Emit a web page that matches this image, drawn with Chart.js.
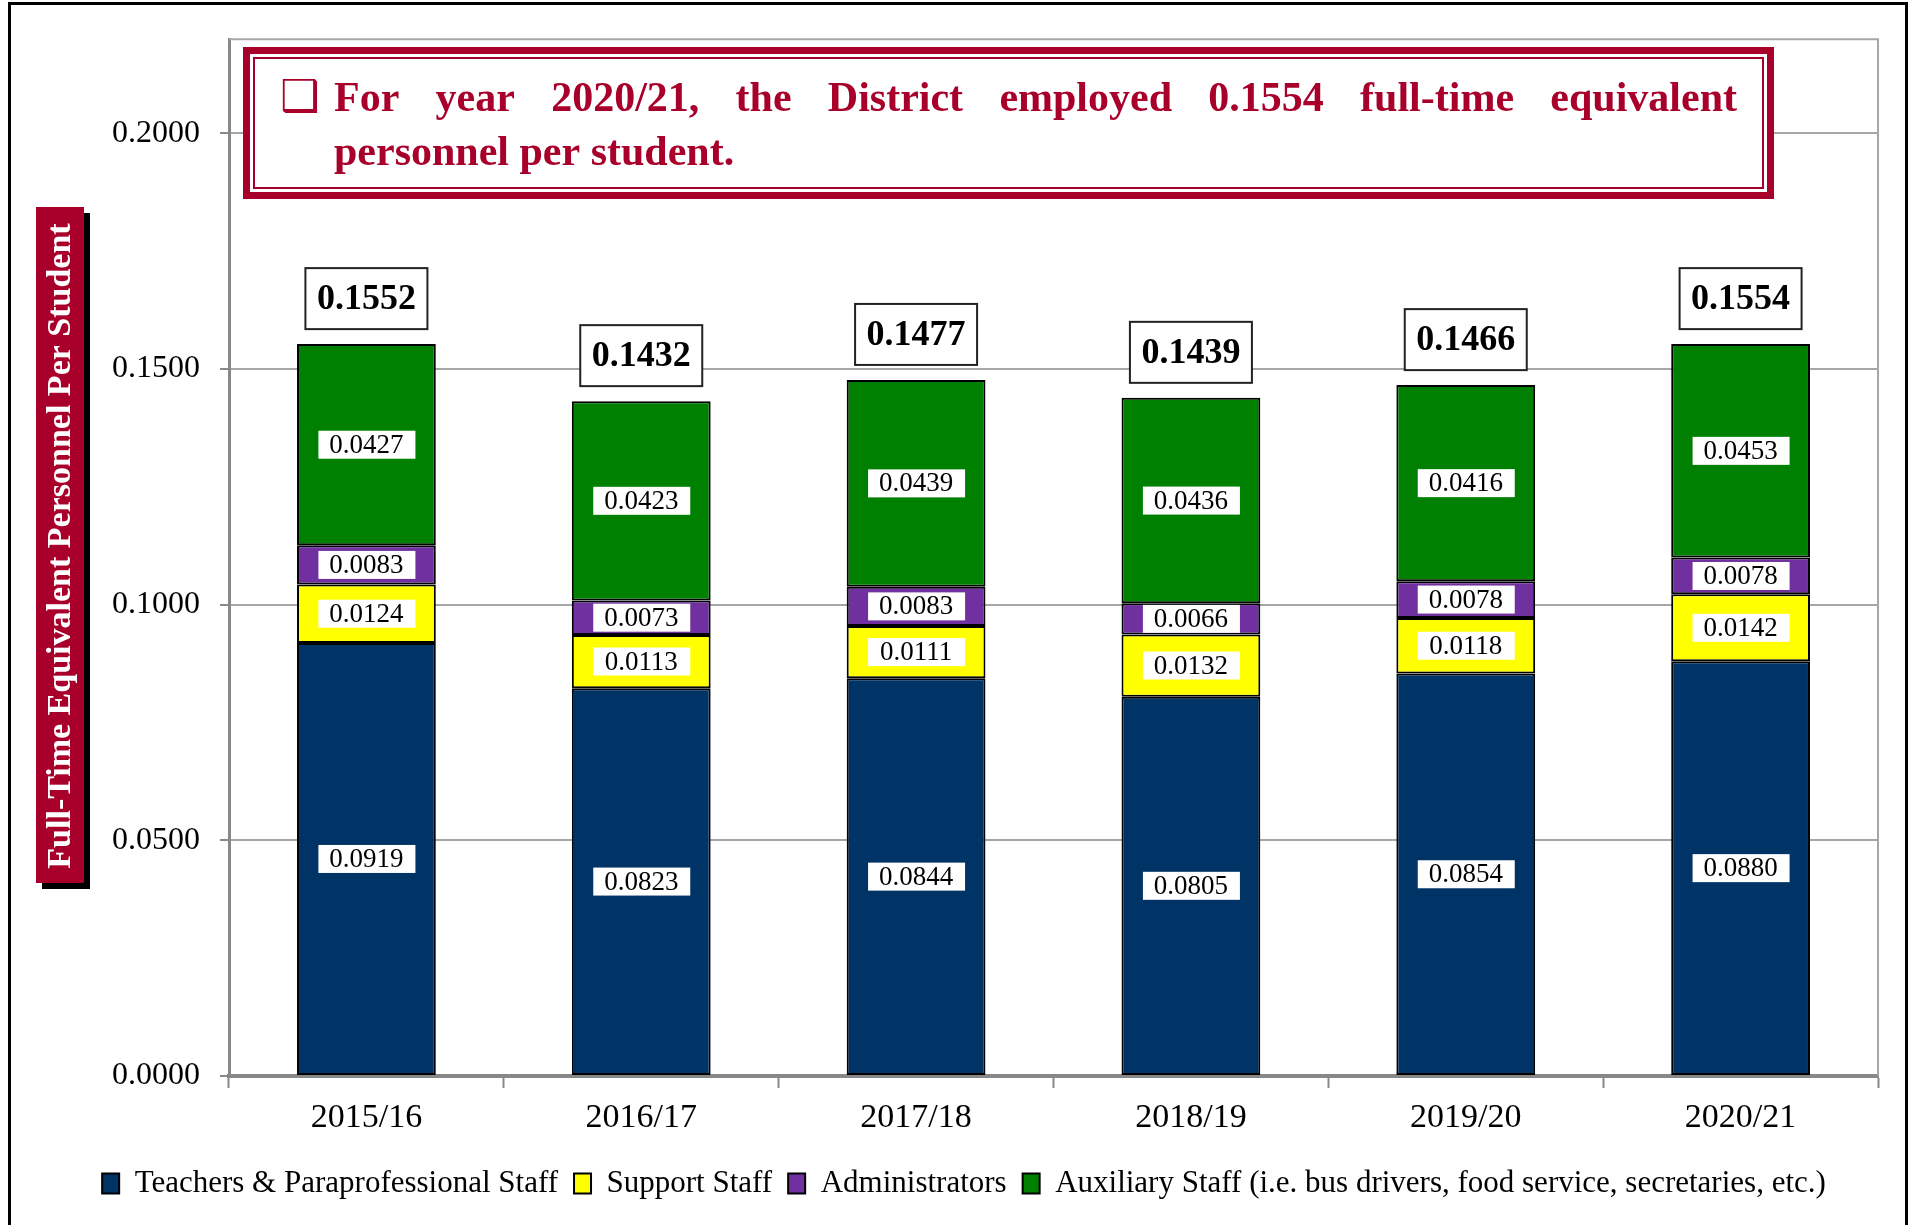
<!DOCTYPE html>
<html lang="en">
<head>
<meta charset="UTF-8">
<title>Full-Time Equivalent Personnel Per Student</title>
<script src="https://cdn.jsdelivr.net/npm/chart.js"></script>
<style>
    html, body { margin: 0; padding: 0; background: #fff; overflow: hidden; }
    #wrap { width: 1911px; height: 1225px; position: relative; }
</style>
</head>
<body>
<div id="wrap"><canvas id="fteChart" width="1911" height="1225"></canvas></div>
<script>
// data
const years = ['2015/16', '2016/17', '2017/18', '2018/19', '2019/20', '2020/21'];
const teachers = [0.0919, 0.0823, 0.0844, 0.0805, 0.0854, 0.0880];
const support = [0.0124, 0.0113, 0.0111, 0.0132, 0.0118, 0.0142];
const admins = [0.0083, 0.0073, 0.0083, 0.0066, 0.0078, 0.0078];
const auxiliary = [0.0427, 0.0423, 0.0439, 0.0436, 0.0416, 0.0453];
const totals = [0.1552, 0.1432, 0.1477, 0.1439, 0.1466, 0.1554];
const yTicks = [0, 0.05, 0.10, 0.15, 0.20];
const yMax = 0.22;

const seriesNames = ['Teachers & Paraprofessional Staff', 'Support Staff', 'Administrators',
    'Auxiliary Staff (i.e. bus drivers, food service, secretaries, etc.)'];
const seriesColors = ['#003366', '#FFFF00', '#7030A0', '#008000'];

const serif = "'Liberation Serif', 'Times New Roman', serif";
const crimson = '#A8002A';
const noteLine1 = 'For year 2020/21, the District employed 0.1554 full-time equivalent';
const noteLine2 = 'personnel per student.';
const yTitle = 'Full-Time Equivalent Personnel Per Student';

function drawJustified(ctx, text, x, y, width) {
    const words = text.split(' ');
    const used = words.reduce((s, w) => s + ctx.measureText(w).width, 0);
    const gap = (width - used) / (words.length - 1);
    let cx = x;
    words.forEach(w => {
        ctx.fillText(w, cx, y);
        cx += ctx.measureText(w).width + gap;
    });
}

// frame, y title box, plot border
const framePlugin = {
    id: 'frame',
    beforeDraw(chart) {
        const ctx = chart.ctx;
        ctx.save();
        ctx.fillStyle = '#fff';
        ctx.fillRect(0, 0, chart.width, chart.height);
        ctx.strokeStyle = '#000';
        ctx.lineWidth = 3;
        ctx.strokeRect(9.5, 3.5, 1897, 1300);

        // y axis title box with shadow
        ctx.fillStyle = '#000';
        ctx.fillRect(42, 213, 48, 676);
        ctx.fillStyle = crimson;
        ctx.fillRect(36, 207, 48, 676);
        ctx.translate(61, 546);
        ctx.rotate(-Math.PI / 2);
        ctx.fillStyle = '#fff';
        ctx.font = 'bold 34px ' + serif;
        ctx.textAlign = 'center';
        ctx.textBaseline = 'middle';
        ctx.fillText(yTitle, 0, 0);
        ctx.restore();
    },
    beforeDatasetsDraw(chart) {
        const { ctx, chartArea: a } = chart;
        ctx.save();
        ctx.strokeStyle = '#A6A6A6';
        ctx.lineWidth = 2;
        ctx.beginPath();
        ctx.moveTo(a.left, a.top);
        ctx.lineTo(a.right, a.top);
        ctx.lineTo(a.right, a.bottom);
        ctx.stroke();
        ctx.restore();
    }
};

// value boxes and the note box
const labelPlugin = {
    id: 'labels',
    afterDatasetsDraw(chart) {
        const ctx = chart.ctx;
        ctx.save();
        ctx.textAlign = 'center';
        ctx.textBaseline = 'middle';

        chart.data.datasets.forEach((ds, i) => {
            chart.getDatasetMeta(i).data.forEach((bar, j) => {
                const cy = (bar.y + bar.base) / 2;
                ctx.fillStyle = '#fff';
                ctx.fillRect(bar.x - 48, cy - 14, 97, 28);
                ctx.fillStyle = '#000';
                ctx.font = '27px ' + serif;
                ctx.fillText(ds.data[j].toFixed(4), bar.x, cy + 1);
            });
        });

        const top = chart.getDatasetMeta(chart.data.datasets.length - 1).data;
        top.forEach((bar, j) => {
            const bottom = bar.y - 15;
            ctx.fillStyle = '#fff';
            ctx.fillRect(bar.x - 61, bottom - 61, 122, 61);
            ctx.strokeStyle = '#222';
            ctx.lineWidth = 2;
            ctx.strokeRect(bar.x - 61, bottom - 61, 122, 61);
            ctx.fillStyle = '#000';
            ctx.font = 'bold 36px ' + serif;
            ctx.fillText(totals[j].toFixed(4), bar.x, bottom - 29);
        });

        // note box, double crimson border
        ctx.fillStyle = '#fff';
        ctx.fillRect(243, 47, 1531, 152);
        ctx.strokeStyle = crimson;
        ctx.lineWidth = 7;
        ctx.strokeRect(246.5, 50.5, 1524, 145);
        ctx.lineWidth = 2;
        ctx.strokeRect(254, 58, 1509, 130);

        ctx.fillStyle = crimson;
        ctx.textAlign = 'left';
        ctx.textBaseline = 'alphabetic';
        ctx.font = '44px DejaVu Sans';
        ctx.fillText('\u2751', 280, 111);
        ctx.font = 'bold 42px ' + serif;
        drawJustified(ctx, noteLine1, 334, 111, 1403);
        ctx.fillText(noteLine2, 334, 165);
        ctx.restore();
    }
};

const seriesValues = [teachers, support, admins, auxiliary];

new Chart(document.getElementById('fteChart'), {
    type: 'bar',
    data: {
        labels: years,
        datasets: seriesValues.map((vals, i) => ({
            label: seriesNames[i],
            data: vals,
            backgroundColor: seriesColors[i],
            borderColor: '#000',
            borderWidth: 2,
            borderSkipped: false,
            categoryPercentage: 1,
            barPercentage: 0.505
        }))
    },
    options: {
        responsive: false,
        animation: false,
        layout: { padding: { top: 37, right: 33, left: 50, bottom: 16 } },
        scales: {
            x: {
                stacked: true,
                afterFit: s => { s.height = 76; },
                ticks: { font: { family: serif, size: 34 }, color: '#000', padding: 10 },
                grid: { offset: true, drawOnChartArea: false, tickLength: 12, tickColor: '#888', tickWidth: 2 },
                border: { color: '#888', width: 4 }
            },
            y: {
                stacked: true,
                min: 0,
                max: yMax,
                afterFit: s => { s.width = 179; },
                afterBuildTicks: s => { s.ticks = yTicks.map(v => ({ value: v })); },
                ticks: { font: { family: serif, size: 32 }, color: '#000', padding: 20,
                    callback: v => Number(v).toFixed(4) },
                grid: { color: '#A6A6A6', lineWidth: 2, tickLength: 9, tickColor: '#888', tickWidth: 2 },
                border: { color: '#888', width: 3 }
            }
        },
        plugins: {
            legend: {
                position: 'bottom',
                labels: { font: { family: serif, size: 31 }, color: '#000', boxWidth: 17, boxHeight: 20, padding: 16 }
            },
            tooltip: { enabled: false }
        }
    },
    plugins: [framePlugin, labelPlugin]
});
</script>
</body>
</html>
